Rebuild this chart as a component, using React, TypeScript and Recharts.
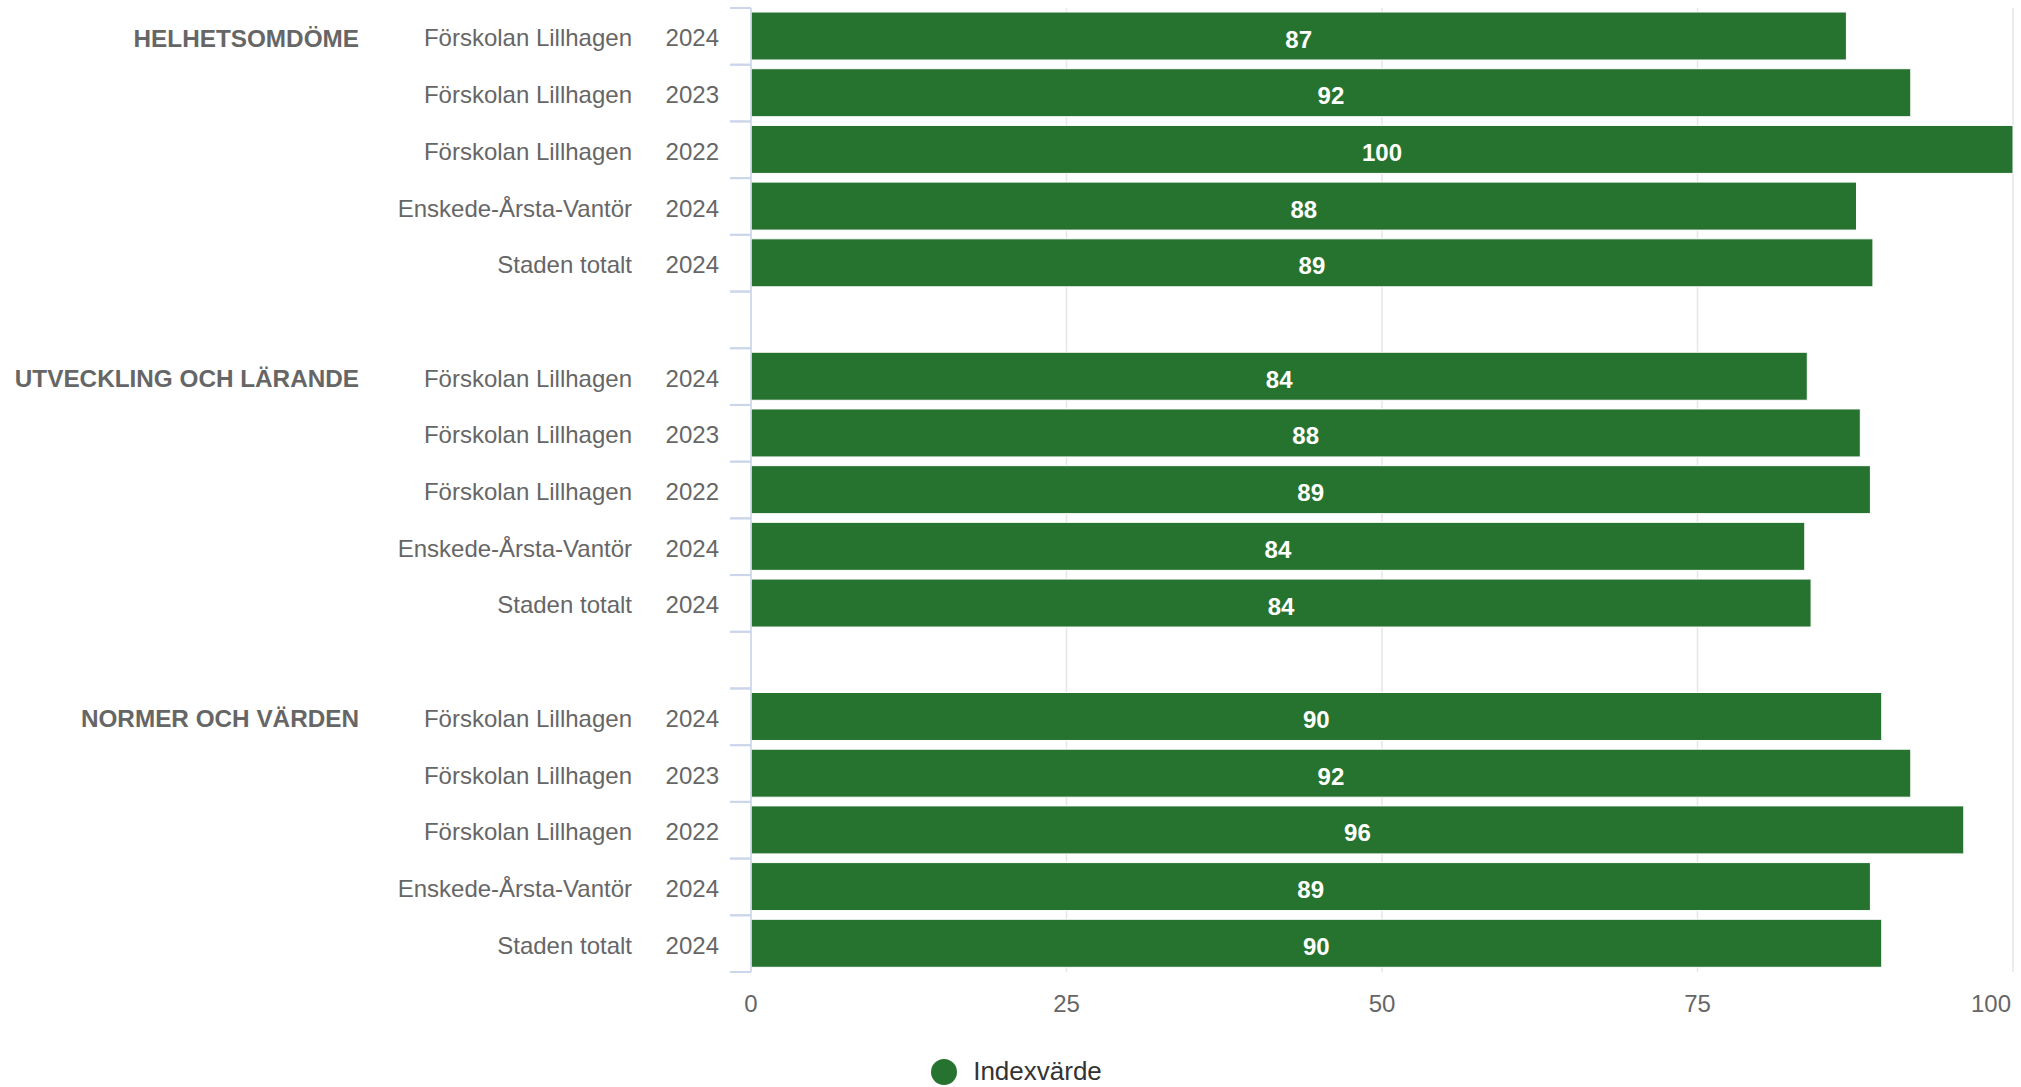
import React from "react";
import {
  BarChart,
  Bar,
  XAxis,
  YAxis,
  CartesianGrid,
  LabelList,
  Legend,
} from "recharts";

const GROUPS = ["HELHETSOMDÖME", "UTVECKLING OCH LÄRANDE", "NORMER OCH VÄRDEN"];
const UNITS = [
  "Förskolan Lillhagen",
  "Förskolan Lillhagen",
  "Förskolan Lillhagen",
  "Enskede-Årsta-Vantör",
  "Staden totalt",
];
const YEARS = ["2024", "2023", "2022", "2024", "2024"];
const HELHET = [86.8, 91.9, 100, 87.6, 88.9];
const UTVECKLING = [83.7, 87.9, 88.7, 83.5, 84.0];
const NORMER = [89.6, 91.9, 96.1, 88.7, 89.6];
const X_TICKS = [0, 25, 50, 75, 100];

const SERIES_NAME = "Indexvärde";
const GREEN = "#267330";
const FONT = "'Liberation Sans', Arial, Helvetica, sans-serif";

const W = 2021;
const H = 1087;
const AXIS_X = 751;
const PLOT_RIGHT = 2013;
const PLOT_TOP = 8;
const PLOT_BOTTOM = 972;

type Row = { key: string; group: string; unit: string; year: string; value: number | null };

const rows: Row[] = [];
[HELHET, UTVECKLING, NORMER].forEach((vals, g) => {
  vals.forEach((v, i) =>
    rows.push({ key: `${g}-${i}`, group: i === 0 ? GROUPS[g] : "", unit: UNITS[i], year: YEARS[i], value: v })
  );
  if (g < GROUPS.length - 1) rows.push({ key: `gap-${g}`, group: "", unit: "", year: "", value: null });
});

const BAND = (PLOT_BOTTOM - PLOT_TOP) / rows.length;

function CategoryTick({ y, payload }: any) {
  const row = rows.find((r) => r.key === payload.value);
  if (!row) return null;
  const top = y - BAND / 2;
  const bottom = y + BAND / 2;
  return (
    <g fontFamily={FONT} fontSize={24} fill="#666666">
      <line x1={AXIS_X - 21} x2={AXIS_X} y1={top} y2={top} stroke="#ccd6eb" strokeWidth={2} />
      <line x1={AXIS_X - 21} x2={AXIS_X} y1={bottom} y2={bottom} stroke="#ccd6eb" strokeWidth={2} />
      {row.group && (
        <text x={359} y={y} dy="0.42em" textAnchor="end" fontWeight="bold" fontSize={24.3}>
          {row.group}
        </text>
      )}
      <text x={632} y={y} dy="0.42em" textAnchor="end">
        {row.unit}
      </text>
      <text x={719} y={y} dy="0.42em" textAnchor="end">
        {row.year}
      </text>
    </g>
  );
}

function ValueTick({ x, y, payload, index }: any) {
  const last = index === X_TICKS.length - 1;
  return (
    <text
      x={last ? x - 2 : x}
      y={y + 32}
      textAnchor={last ? "end" : "middle"}
      fontFamily={FONT}
      fontSize={24}
      fill="#666666"
    >
      {payload.value}
    </text>
  );
}

function LegendContent() {
  return (
    <div
      style={{
        display: "flex",
        justifyContent: "center",
        alignItems: "center",
        paddingLeft: 10,
        fontFamily: FONT,
        fontSize: 26,
        color: "#333333",
      }}
    >
      <svg width={30} height={30} style={{ marginRight: 14 }}>
        <circle cx={15} cy={15} r={13} fill={GREEN} />
      </svg>
      <span>{SERIES_NAME}</span>
    </div>
  );
}

export default function App() {
  return (
    <div style={{ position: "absolute", left: 0, top: 0, width: W, height: H, background: "#fff" }}>
      <BarChart
        width={W}
        height={H}
        data={rows}
        layout="vertical"
        margin={{ top: PLOT_TOP, right: W - PLOT_RIGHT, bottom: 0, left: 0 }}
      >
        <CartesianGrid horizontal={false} stroke="#e6e6e6" strokeWidth={1.5} />
        <XAxis
          type="number"
          domain={[0, 100]}
          ticks={X_TICKS}
          axisLine={false}
          tickLine={false}
          height={H - PLOT_BOTTOM}
          tick={<ValueTick />}
          interval={0}
        />
        <YAxis
          type="category"
          dataKey="key"
          width={AXIS_X}
          interval={0}
          tickLine={false}
          axisLine={{ stroke: "#ccd6eb", strokeWidth: 1.5 }}
          tick={<CategoryTick />}
        />
        <Legend
          layout="horizontal"
          verticalAlign="middle"
          align="center"
          content={<LegendContent />}
          wrapperStyle={{ top: 1056, left: 0, width: W }}
        />
        <Bar
          dataKey="value"
          name={SERIES_NAME}
          fill={GREEN}
          stroke="#ffffff"
          strokeWidth={1}
          barSize={48}
          isAnimationActive={false}
        >
          <LabelList
            dataKey="value"
            position="center"
            fill="#ffffff"
            fontSize={24}
            fontWeight="bold"
            fontFamily={FONT}
            dy={3}
            formatter={(v: any) => (v == null ? "" : Math.round(v))}
          />
        </Bar>
      </BarChart>
    </div>
  );
}
